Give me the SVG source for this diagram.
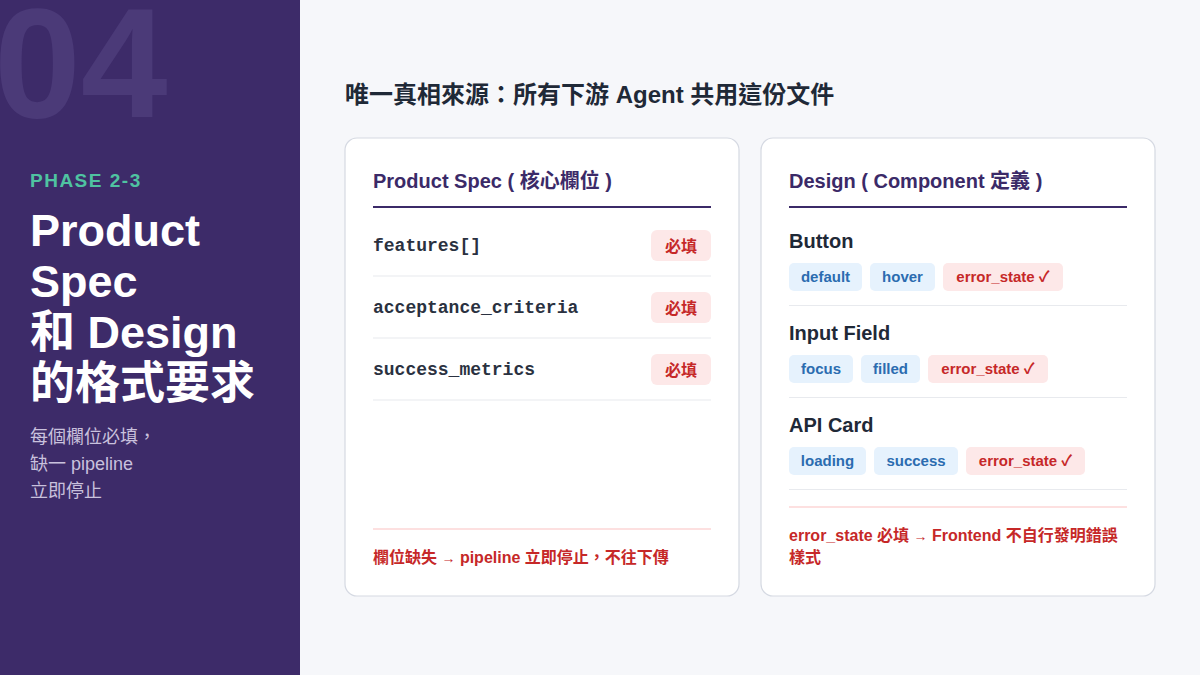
<svg xmlns="http://www.w3.org/2000/svg" width="1200" height="675" viewBox="0 0 1200 675">
<style>
text{font-family:"Liberation Sans","Noto Sans CJK TC",sans-serif}
.card{fill:#fff;stroke:#d5d9e2;stroke-width:1.2}
.ct{font-size:20px;font-weight:bold;fill:#3b2a68}
.mono{font-family:"Liberation Mono","Noto Sans CJK TC",monospace;font-size:18px;font-weight:bold;fill:#2a3140}
.req{fill:#fde8e8}
.reqt{font-size:16px;font-weight:bold;fill:#c62828}
.sep{stroke:#e8eaee;stroke-width:1.2}
.h{font-size:20px;font-weight:bold;fill:#1f2937}
.bt{fill:#e6f2fd}
.btt{font-size:15px;font-weight:bold;fill:#2b6cb0}
.rt{font-size:15px;font-weight:bold;fill:#c62828}
.foot{font-size:16px;font-weight:bold;fill:#c62828}
</style>
<rect width="1200" height="675" fill="#f6f7fa"/>
<g id="sidebar">
<rect width="300" height="675" fill="#3d2b69"/>
<text x="-6" y="117" font-size="156" font-weight="bold" fill="#4b3a78">04</text>
<text x="30" y="187" font-size="19" font-weight="bold" fill="#4fc3a1" letter-spacing="1.5">PHASE 2-3</text>
<text font-size="45" font-weight="bold" fill="#fff"><tspan x="30" y="246">Product</tspan><tspan x="30" y="297">Spec</tspan><tspan x="30" y="348">和 Design</tspan><tspan x="30" y="399">的格式要求</tspan></text>
<text font-size="18" fill="#c9c1dd"><tspan x="30" y="443">每個欄位必填，</tspan><tspan x="30" y="470">缺一 pipeline</tspan><tspan x="30" y="497">立即停止</tspan></text>
</g>
<text x="345" y="103" font-size="24" font-weight="bold" fill="#1f2937">唯一真相來源：所有下游 Agent 共用這份文件</text>
<g id="spec">
<rect class="card" x="345" y="138" width="394" height="458" rx="12"/>
<text class="ct" x="373" y="188">Product Spec ( 核心欄位 )</text>
<line x1="373" y1="207" x2="711" y2="207" stroke="#3b2a68" stroke-width="2"/>
<text class="mono" x="373" y="251">features[]</text>
<rect class="req" x="651" y="230" width="60" height="31" rx="6"/><text class="reqt" x="681" y="252" text-anchor="middle">必填</text>
<line class="sep" x1="373" y1="276" x2="711" y2="276"/>
<text class="mono" x="373" y="313">acceptance_criteria</text>
<rect class="req" x="651" y="292" width="60" height="31" rx="6"/><text class="reqt" x="681" y="314" text-anchor="middle">必填</text>
<line class="sep" x1="373" y1="338" x2="711" y2="338"/>
<text class="mono" x="373" y="375">success_metrics</text>
<rect class="req" x="651" y="354" width="60" height="31" rx="6"/><text class="reqt" x="681" y="376" text-anchor="middle">必填</text>
<line class="sep" x1="373" y1="400" x2="711" y2="400"/>
<line x1="373" y1="529" x2="711" y2="529" stroke="#fde0e0" stroke-width="2"/>
<text class="foot" x="373" y="563">欄位缺失 <tspan font-size="14">→</tspan> pipeline 立即停止，不往下傳</text>
</g>
<g id="design">
<rect class="card" x="761" y="138" width="394" height="458" rx="12"/>
<text class="ct" x="789" y="188">Design ( Component 定義 )</text>
<line x1="789" y1="207" x2="1127" y2="207" stroke="#3b2a68" stroke-width="2"/>
<text class="h" x="789" y="248">Button</text>
<rect class="bt" x="789" y="263" width="73" height="28" rx="5"/><text class="btt" x="825.5" y="282" text-anchor="middle">default</text>
<rect class="bt" x="870" y="263" width="65" height="28" rx="5"/><text class="btt" x="902.5" y="282" text-anchor="middle">hover</text>
<rect class="req" x="943" y="263" width="120" height="28" rx="5"/><text class="rt" x="1003" y="282" text-anchor="middle">error_state ✓</text>
<line class="sep" x1="789" y1="305.5" x2="1127" y2="305.5"/>
<text class="h" x="789" y="340">Input Field</text>
<rect class="bt" x="789" y="355" width="64" height="28" rx="5"/><text class="btt" x="821" y="374" text-anchor="middle">focus</text>
<rect class="bt" x="861" y="355" width="59" height="28" rx="5"/><text class="btt" x="890.5" y="374" text-anchor="middle">filled</text>
<rect class="req" x="928" y="355" width="120" height="28" rx="5"/><text class="rt" x="988" y="374" text-anchor="middle">error_state ✓</text>
<line class="sep" x1="789" y1="397.5" x2="1127" y2="397.5"/>
<text class="h" x="789" y="432">API Card</text>
<rect class="bt" x="789" y="447" width="77" height="28" rx="5"/><text class="btt" x="827.5" y="466" text-anchor="middle">loading</text>
<rect class="bt" x="874" y="447" width="84" height="28" rx="5"/><text class="btt" x="916" y="466" text-anchor="middle">success</text>
<rect class="req" x="966" y="447" width="119" height="28" rx="5"/><text class="rt" x="1025.5" y="466" text-anchor="middle">error_state ✓</text>
<line class="sep" x1="789" y1="489.5" x2="1127" y2="489.5"/>
<line x1="789" y1="507" x2="1127" y2="507" stroke="#fde0e0" stroke-width="2"/>
<text class="foot"><tspan x="789" y="541">error_state 必填 <tspan font-size="14">→</tspan> Frontend 不自行發明錯誤</tspan><tspan x="789" y="563">樣式</tspan></text>
</g>
<g id="connectors"/>
</svg>
